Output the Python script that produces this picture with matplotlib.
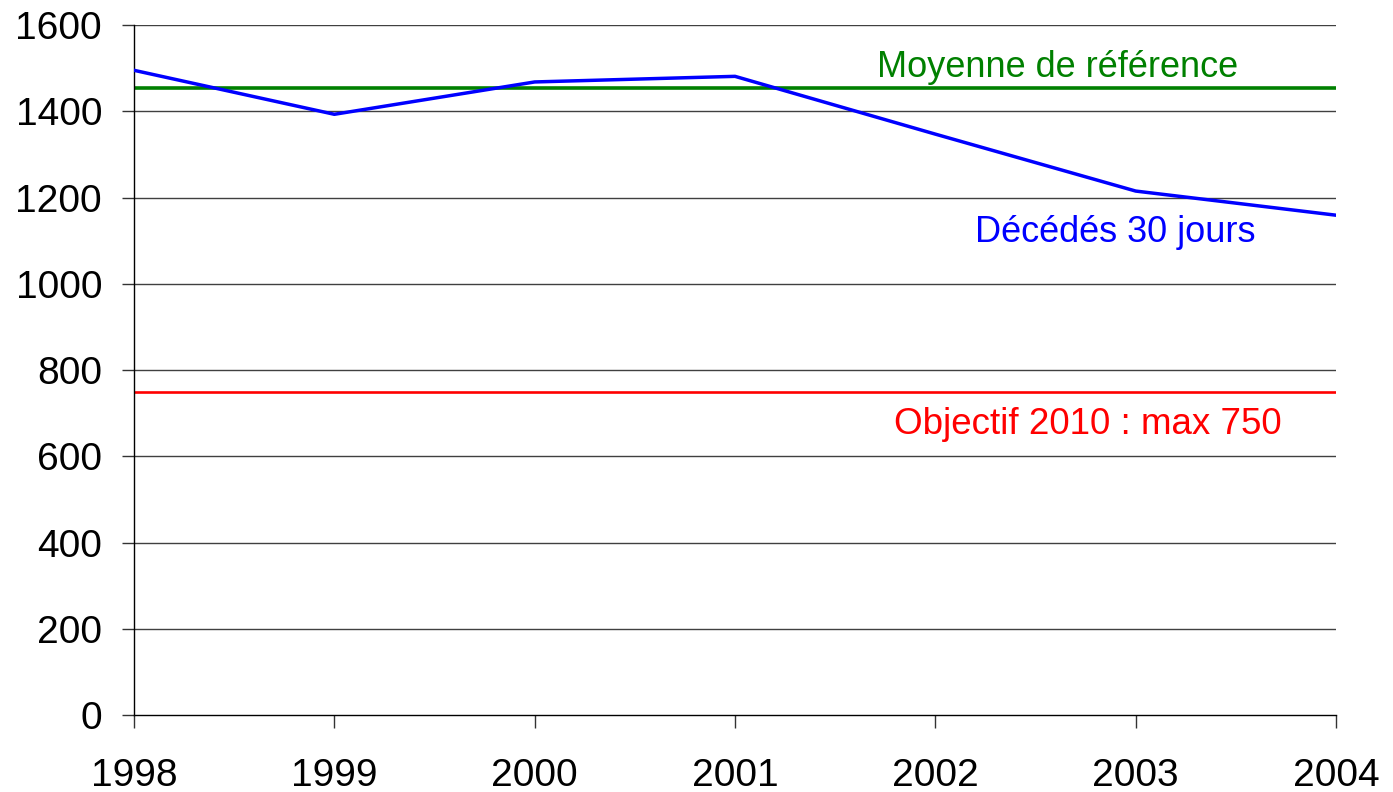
import numpy as np
import matplotlib
matplotlib.use('Agg')
import matplotlib.pyplot as plt

''' data read off the chart '''
years = [1998, 1999, 2000, 2001, 2002, 2003, 2004]
deces_30j = [1495, 1393, 1468, 1481, 1347, 1215, 1159]
moyenne_ref = 1454
objectif_2010 = 750
y_ticks = [0, 200, 400, 600, 800, 1000, 1200, 1400, 1600]

plt.rcParams['font.family'] = ['Liberation Sans', 'DejaVu Sans']

fig = plt.figure(figsize=(13.93, 7.92), dpi=100)
ax = fig.add_axes([0.0962, 0.0972, 0.8629, 0.8712])

for yv in y_ticks[1:]:
    ax.axhline(yv, color='#404040', lw=1.0, zorder=1)

ax.axhline(moyenne_ref, color='#008000', lw=2.6, zorder=2)
ax.axhline(objectif_2010, color='#FF0000', lw=1.9, zorder=2)
ax.plot(years, deces_30j, color='#0000FF', lw=2.5, zorder=3)

ax.text(2002.61, 1502, 'Moyenne de référence', color='#008000', fontsize=26,
        ha='center', va='center')
ax.text(2002.9, 1118, 'Décédés 30 jours', color='#0000FF', fontsize=26,
        ha='center', va='center')
ax.text(2002.76, 673, 'Objectif 2010 : max 750', color='#FF0000', fontsize=26.5,
        ha='center', va='center')

ax.set_xlim(1998, 2004)
ax.set_ylim(0, 1600)
ax.set_xticks(years)
ax.set_yticks(y_ticks)
ax.tick_params(axis='both', labelsize=28, length=9, width=1, color='#333333')
ax.tick_params(axis='x', pad=22)
ax.tick_params(axis='y', pad=14)

for s in ['top', 'right']:
    ax.spines[s].set_visible(False)
for s in ['left', 'bottom']:
    ax.spines[s].set_linewidth(1.0)
    ax.spines[s].set_color('black')

fig.savefig('out.png', dpi=100)
